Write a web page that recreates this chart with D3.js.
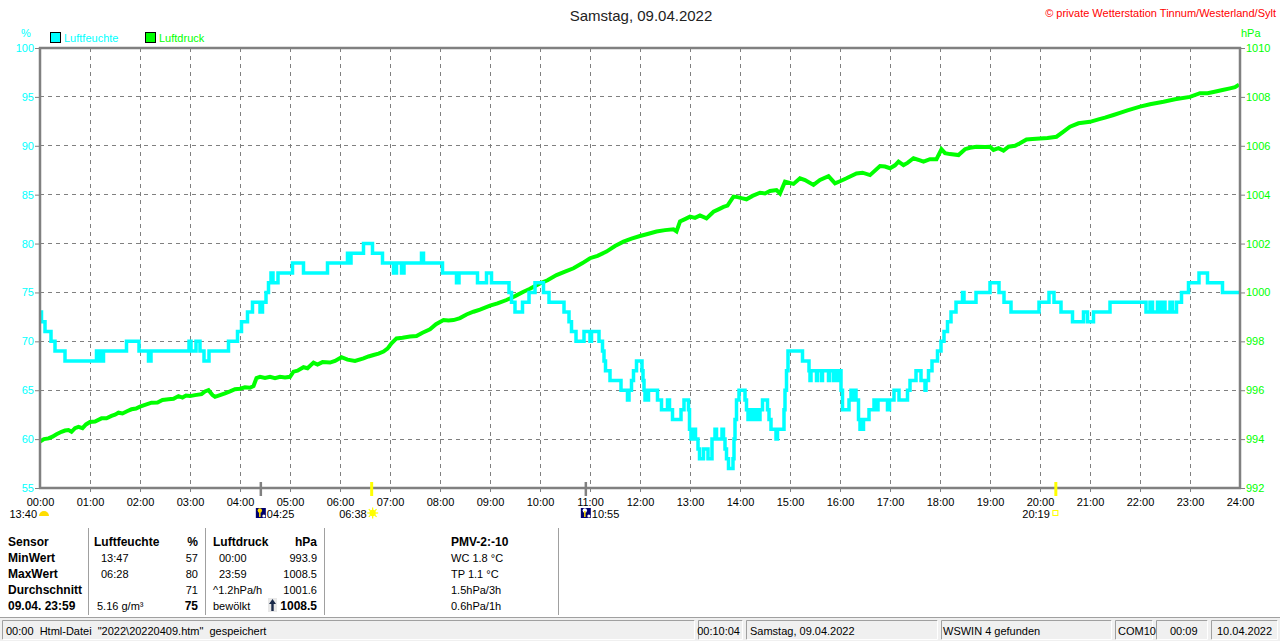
<!DOCTYPE html>
<html><head><meta charset="utf-8">
<script src="https://cdn.jsdelivr.net/npm/d3@7"></script>
<style>
html,body{margin:0;padding:0;background:#fff;}
svg{display:block;font-family:"Liberation Sans",Arial,sans-serif;}
.pre{white-space:pre;}
</style></head>
<body>
<svg id="c" width="1280" height="641"></svg>
<script>
// ---------- data ----------
const title = "Samstag, 09.04.2022";
const copyright = "© private Wetterstation Tinnum/Westerland/Sylt";
const seriesNames = ["Luftfeuchte", "Luftdruck"];
const seriesColors = ["#00ffff", "#00ff00"];
const hourLabels = ["00:00","01:00","02:00","03:00","04:00","05:00","06:00","07:00","08:00","09:00","10:00","11:00","12:00","13:00","14:00","15:00","16:00","17:00","18:00","19:00","20:00","21:00","22:00","23:00","24:00"];
const humTicks = [55,60,65,70,75,80,85,90,95,100];
const presTicks = [992,994,996,998,1000,1002,1004,1006,1008,1010];

// Luftfeuchte (%), step changes: hour of day -> value
const humT = [0.00,0.03,0.10,0.22,0.30,0.50,1.13,1.17,1.20,1.23,1.27,1.73,1.98,2.17,2.22,2.98,3.02,3.12,3.20,3.28,3.38,3.77,3.95,4.03,4.15,4.25,4.40,4.45,4.52,4.57,4.62,4.66,4.76,5.05,5.27,5.75,6.15,6.18,6.22,6.47,6.65,6.85,7.07,7.13,7.23,7.28,7.63,7.67,8.05,8.33,8.38,8.75,8.93,9.03,9.38,9.43,9.50,9.65,9.78,9.90,10.07,10.18,10.48,10.58,10.63,10.72,10.88,11.00,11.03,11.18,11.25,11.28,11.31,11.40,11.62,11.75,11.78,11.83,11.87,11.93,12.04,12.06,12.08,12.10,12.17,12.35,12.43,12.55,12.59,12.65,12.82,12.88,12.97,12.99,13.02,13.08,13.11,13.16,13.19,13.27,13.36,13.44,13.50,13.53,13.64,13.67,13.70,13.73,13.77,13.86,13.88,13.90,13.93,13.98,14.10,14.13,14.16,14.20,14.22,14.26,14.28,14.33,14.36,14.40,14.45,14.55,14.58,14.62,14.72,14.75,14.88,14.90,14.93,14.96,15.25,15.38,15.40,15.42,15.53,15.55,15.63,15.65,15.77,15.79,15.87,15.89,15.96,15.98,16.02,16.05,16.18,16.22,16.25,16.29,16.32,16.37,16.40,16.47,16.58,16.68,16.73,16.76,16.95,16.99,17.08,17.18,17.35,17.40,17.52,17.62,17.70,17.72,17.77,17.84,17.95,18.02,18.08,18.15,18.22,18.32,18.45,18.48,18.72,19.00,19.18,19.28,19.42,19.98,20.18,20.28,20.42,20.65,20.87,20.95,21.07,21.40,22.12,22.20,22.25,22.35,22.40,22.45,22.50,22.60,22.65,22.73,22.83,22.97,23.18,23.35,23.65,24.00];
const humV = [73,72,71,70,69,68,69,68,69,68,69,70,69,68,69,70,69,70,69,68,69,70,71,72,73,74,73,74,75,76,77,76,77,78,77,78,79,78,79,80,79,78,77,78,77,78,79,78,77,76,77,76,77,76,75,74,73,74,75,76,75,74,73,72,71,70,71,70,71,70,69,68,67,66,65,64,65,66,67,68,67,66,65,64,65,64,63,64,63,62,63,64,63,61,60,61,60,59,58,59,58,60,61,60,61,60,59,58,57,58,60,62,64,65,64,63,62,63,62,63,62,63,62,63,64,63,62,61,60,61,63,65,67,69,68,67,66,67,66,67,66,67,66,67,66,67,66,67,65,63,64,65,64,65,64,62,61,62,63,64,63,64,63,64,65,64,65,66,67,66,65,66,67,68,69,70,71,72,73,74,75,74,75,76,75,74,73,74,75,74,73,72,73,72,73,74,73,74,73,74,73,74,73,74,73,74,75,76,77,76,75,75];

// Luftdruck (hPa): hour of day -> value
const presT = [0.00,0.08,0.17,0.25,0.33,0.43,0.50,0.57,0.63,0.70,0.77,0.85,0.92,1.00,1.10,1.23,1.33,1.43,1.50,1.57,1.65,1.75,1.83,1.92,2.00,2.10,2.23,2.35,2.45,2.57,2.67,2.77,2.85,2.92,3.00,3.10,3.23,3.30,3.37,3.45,3.50,3.60,3.70,3.80,3.90,4.00,4.10,4.20,4.27,4.33,4.40,4.50,4.60,4.70,4.80,4.90,5.00,5.07,5.15,5.27,5.35,5.47,5.55,5.65,5.80,5.90,6.03,6.15,6.30,6.47,6.57,6.67,6.77,6.87,6.95,7.03,7.13,7.25,7.40,7.53,7.65,7.80,7.92,8.07,8.17,8.27,8.40,8.53,8.67,8.80,9.00,9.15,9.33,9.50,9.67,9.80,10.00,10.15,10.33,10.50,10.67,10.85,11.00,11.15,11.33,11.50,11.67,11.83,12.00,12.17,12.33,12.50,12.67,12.73,12.80,12.90,13.00,13.10,13.20,13.33,13.47,13.57,13.67,13.75,13.87,13.95,14.05,14.13,14.25,14.40,14.50,14.60,14.73,14.80,14.90,15.07,15.20,15.30,15.47,15.60,15.77,15.90,16.00,16.13,16.33,16.45,16.60,16.80,16.90,17.00,17.10,17.17,17.27,17.35,17.47,17.60,17.67,17.80,17.93,18.03,18.10,18.20,18.37,18.50,18.60,18.73,18.90,19.00,19.07,19.17,19.27,19.37,19.50,19.60,19.73,19.85,20.00,20.15,20.33,20.47,20.60,20.77,21.00,21.17,21.30,21.47,21.60,21.75,22.00,22.20,22.47,22.70,23.00,23.20,23.35,23.47,23.65,23.80,23.90,23.98];
const presV = [993.9,994.0,994.03,994.1,994.2,994.3,994.35,994.37,994.3,994.45,994.5,994.45,994.6,994.7,994.72,994.85,994.85,994.95,995.0,995.08,995.05,995.15,995.22,995.25,995.33,995.4,995.49,995.5,995.6,995.63,995.65,995.76,995.7,995.78,995.76,995.8,995.84,995.95,996.0,995.8,995.73,995.8,995.87,995.95,996.04,996.06,996.12,996.1,996.17,996.5,996.55,996.5,996.55,996.49,996.55,996.52,996.55,996.76,996.8,996.94,996.9,997.13,997.05,997.15,997.13,997.2,997.35,997.25,997.2,997.3,997.38,997.44,997.5,997.58,997.7,997.92,998.12,998.15,998.2,998.22,998.35,998.49,998.7,998.87,998.85,998.87,998.95,999.1,999.21,999.3,999.46,999.55,999.69,999.85,1000.03,1000.15,1000.37,1000.5,1000.71,1000.85,1000.99,1001.2,1001.4,1001.5,1001.67,1001.9,1002.08,1002.2,1002.31,1002.4,1002.49,1002.55,1002.58,1002.5,1002.9,1003.0,1003.1,1003.05,1003.15,1003.03,1003.3,1003.4,1003.5,1003.55,1003.92,1003.9,1003.85,1003.81,1003.95,1004.08,1004.05,1004.15,1004.19,1004.05,1004.53,1004.44,1004.67,1004.6,1004.4,1004.6,1004.76,1004.46,1004.55,1004.67,1004.87,1004.9,1004.8,1005.17,1005.15,1005.08,1005.2,1005.35,1005.21,1005.3,1005.49,1005.4,1005.35,1005.45,1005.45,1005.86,1005.7,1005.66,1005.62,1005.86,1005.92,1005.96,1005.95,1005.96,1005.83,1005.9,1005.8,1005.96,1006.0,1006.1,1006.26,1006.28,1006.3,1006.32,1006.37,1006.58,1006.78,1006.92,1006.98,1007.08,1007.15,1007.26,1007.35,1007.45,1007.6,1007.7,1007.8,1007.9,1008.0,1008.15,1008.15,1008.2,1008.28,1008.35,1008.4,1008.5];

// sun / moon events
const eventTimes = ["13:40","04:25","06:38","10:55","20:19"];
const eventKinds = ["moonphase","moonset","sunrise","moonrise","sunset"];

// table
const tableHeader = ["Sensor","Luftfeuchte","%","Luftdruck","hPa","PMV-2:-10"];
const rowLabels = ["MinWert","MaxWert","Durchschnitt","09.04. 23:59"];
const humCol = ["13:47","06:28","","5.16 g/m³"];
const humVal = ["57","80","71","75"];
const presCol = ["00:00","23:59","^1.2hPa/h","bewölkt"];
const presVal = ["993.9","1008.5","1001.6","1008.5"];
const extraCol = ["WC 1.8 °C","TP 1.1 °C","1.5hPa/3h","0.6hPa/1h"];

const statusTexts = ["00:00  Html-Datei  \"2022\\20220409.htm\"  gespeichert","00:10:04","Samstag, 09.04.2022","WSWIN 4 gefunden","COM10","00:09","10.04.2022"];

// ---------- drawing ----------
const svg = d3.select("#c");
const L = 40, R = 1240, T = 48, B = 488;
const x = d3.scaleLinear().domain([0,24]).range([L,R]);
const yH = d3.scaleLinear().domain([55,100]).range([B,T]);
const yP = d3.scaleLinear().domain([992,1010]).range([B,T]);
const grey = "#808080";

svg.append("rect").attr("width",1280).attr("height",641).attr("fill","#fff");

// title & copyright
svg.append("text").attr("x",641).attr("y",21).attr("text-anchor","middle")
  .attr("font-size",15).attr("fill","#222").text(title);
svg.append("text").attr("x",1276).attr("y",17).attr("text-anchor","end")
  .attr("font-size",11).attr("fill","#ff0000").text(copyright);

// units
svg.append("text").attr("x",26).attr("y",37).attr("text-anchor","middle").attr("font-size",11).attr("fill",seriesColors[0]).text("%");
svg.append("text").attr("x",1241).attr("y",37).attr("font-size",11).attr("fill",seriesColors[1]).text("hPa");

// legend
const legX = [50,145];
seriesNames.forEach((n,i)=>{
  svg.append("rect").attr("x",legX[i]+0.5).attr("y",32.5).attr("width",10).attr("height",10)
    .attr("fill",seriesColors[i]).attr("stroke","#000").attr("stroke-width",1);
  svg.append("text").attr("x",legX[i]+14).attr("y",42).attr("font-size",11).attr("fill",seriesColors[i]).text(n);
});

// grid
const grid = svg.append("g").attr("stroke",grey).attr("stroke-width",1).attr("stroke-dasharray","4,4").attr("shape-rendering","crispEdges");
d3.range(1,24).forEach(h=>{
  grid.append("line").attr("x1",x(h)).attr("x2",x(h)).attr("y1",T).attr("y2",B+4);
});
humTicks.slice(1,-1).forEach(v=>{
  grid.append("line").attr("x1",L).attr("x2",R).attr("y1",yH(v)).attr("y2",yH(v));
});

// axes
const axL = svg.append("g").attr("transform",`translate(${L},0)`)
  .call(d3.axisLeft(yH).tickValues(humTicks).tickSize(5).tickPadding(1).tickFormat(d3.format("d")));
axL.select(".domain").remove();
axL.selectAll("line").attr("stroke",grey);
axL.selectAll("text").attr("fill",seriesColors[0]).attr("font-size",11).attr("font-family","Liberation Sans, Arial, sans-serif");

const axR = svg.append("g").attr("transform",`translate(${R},0)`)
  .call(d3.axisRight(yP).tickValues(presTicks).tickSize(5).tickPadding(1).tickFormat(d3.format("d")));
axR.select(".domain").remove();
axR.selectAll("line").attr("stroke",grey);
axR.selectAll("text").attr("fill",seriesColors[1]).attr("font-size",11).attr("font-family","Liberation Sans, Arial, sans-serif");

const axB = svg.append("g").attr("transform",`translate(0,${B})`)
  .call(d3.axisBottom(x).tickValues(d3.range(0,25)).tickSize(0).tickPadding(10).tickFormat(i=>hourLabels[i]));
axB.select(".domain").remove();
axB.selectAll("text").attr("fill","#000").attr("font-size",11).attr("font-family","Liberation Sans, Arial, sans-serif");

// data lines
const lineP = d3.line().x(d=>x(d[0])).y(d=>yP(d[1]));
svg.append("path").datum(d3.zip(presT,presV)).attr("d",lineP)
  .attr("fill","none").attr("stroke",seriesColors[1]).attr("stroke-width",4).attr("stroke-linejoin","miter");
const lineH = d3.line().x(d=>x(d[0])).y(d=>yH(d[1])).curve(d3.curveStepAfter);
svg.append("path").datum(d3.zip(humT,humV)).attr("d",lineH)
  .attr("fill","none").attr("stroke",seriesColors[0]).attr("stroke-width",3.5);

// frame
const fr = svg.append("g").attr("stroke",grey).attr("stroke-width",2.5).attr("fill","none");
fr.append("line").attr("x1",L-1).attr("x2",R+1).attr("y1",T).attr("y2",T);
fr.append("line").attr("x1",L-1).attr("x2",R+1).attr("y1",B).attr("y2",B);
fr.append("line").attr("x1",L).attr("x2",L).attr("y1",T-1).attr("y2",B+1);
fr.append("line").attr("x1",R).attr("x2",R).attr("y1",T-1).attr("y2",B+1);

// events
const toH = s => { const p = s.split(":"); return +p[0] + (+p[1])/60; };
eventTimes.forEach((t,i)=>{
  const k = eventKinds[i];
  const ex = k==="moonphase" ? x(0) : x(toH(t));
  const g = svg.append("g");
  if (k !== "moonphase") {
    const col = (k==="sunrise"||k==="sunset") ? "#ffff00" : grey;
    g.append("line").attr("x1",ex).attr("x2",ex).attr("y1",B-6).attr("y2",B+8)
      .attr("stroke",col).attr("stroke-width",k.startsWith("sun")?3:2.5);
  }
  const ty = 518;
  if (k==="moonphase") {
    g.append("path").attr("d",`M${ex-1},${516} a5,5 0 0 1 10,0 z`).attr("fill","#ffdd00");
    g.append("text").attr("x",ex-3).attr("y",ty).attr("text-anchor","end").attr("font-size",11).text(t);
  } else if (k==="moonset" || k==="moonrise") {
    g.append("rect").attr("x",ex-5).attr("y",508).attr("width",10).attr("height",10).attr("fill","#00006e");
    g.append("circle").attr("cx",ex-1).attr("cy",510.5).attr("r",2.2).attr("fill",k==="moonset"?"#ffdd00":"#ffffff");
    g.append("line").attr("x1",ex-1).attr("x2",ex-1).attr("y1",511).attr("y2",517).attr("stroke","#ffdd00").attr("stroke-width",1.5);
    g.append("circle").attr("cx",ex+3).attr("cy",516).attr("r",1.5).attr("fill","#ffffff");
    g.append("text").attr("x",ex+6).attr("y",ty).attr("font-size",11).text(t);
  } else if (k==="sunrise") {
    const cx = ex+1, cy = 513;
    d3.range(8).forEach(j=>{
      const a = j*Math.PI/4;
      g.append("line").attr("x1",cx+Math.cos(a)*3).attr("y1",cy+Math.sin(a)*3)
        .attr("x2",cx+Math.cos(a)*5.5).attr("y2",cy+Math.sin(a)*5.5).attr("stroke","#ffff00").attr("stroke-width",1.2);
    });
    g.append("circle").attr("cx",cx).attr("cy",cy).attr("r",3.2).attr("fill","#ffff00");
    g.append("text").attr("x",ex-5).attr("y",ty).attr("text-anchor","end").attr("font-size",11).text(t);
  } else {
    g.append("rect").attr("x",ex-3).attr("y",510.5).attr("width",5).attr("height",5).attr("fill","none").attr("stroke","#ffff00").attr("stroke-width",1);
    g.append("text").attr("x",ex-6).attr("y",ty).attr("text-anchor","end").attr("font-size",11).text(t);
  }
});

// table
const tb = svg.append("g").attr("font-size",11).attr("fill","#000");
[88,205,324,558].forEach(sx=>{
  tb.append("line").attr("x1",sx).attr("x2",sx).attr("y1",528).attr("y2",615).attr("stroke","#a0a0a0").attr("stroke-width",1).attr("shape-rendering","crispEdges");
});
const rowY = [546,562,578,594,610];
const hdrX = [8,94,198,213,317,451];
const hdrAnchor = ["start","start","end","start","end","start"];
tableHeader.forEach((h,i)=>{
  tb.append("text").attr("x",hdrX[i]).attr("y",rowY[0]).attr("text-anchor",hdrAnchor[i]).attr("font-size",12).attr("font-weight","bold").text(h);
});
rowLabels.forEach((r,i)=>{
  const y = rowY[i+1];
  tb.append("text").attr("x",8).attr("y",y).attr("font-size",12).attr("font-weight","bold").text(r);
  tb.append("text").attr("x",i===3?97:101).attr("y",y).text(humCol[i]);
  tb.append("text").attr("x",198).attr("y",y).attr("text-anchor","end").attr("font-size",i===3?12:11).attr("font-weight",i===3?"bold":"normal").text(humVal[i]);
  tb.append("text").attr("x",(i<2)?219:213).attr("y",y).text(presCol[i]);
  tb.append("text").attr("x",317).attr("y",y).attr("text-anchor","end").attr("font-size",i===3?12:11).attr("font-weight",i===3?"bold":"normal").text(presVal[i]);
  tb.append("text").attr("x",451).attr("y",y).text(extraCol[i]);
});
// trend arrow
tb.append("rect").attr("x",268).attr("y",598).attr("width",9).attr("height",14).attr("fill","#e8e8e8");
tb.append("path").attr("d","M272.5,599 L276,604 L273.7,604 L273.7,611 L271.3,611 L271.3,604 L269,604 Z").attr("fill","#1a2a4a");

// status bar
const sb = svg.append("g");
sb.append("rect").attr("x",0).attr("y",617).attr("width",1280).attr("height",24).attr("fill","#f0f0f0");
sb.append("line").attr("x1",0).attr("x2",1280).attr("y1",617.5).attr("y2",617.5).attr("stroke","#a0a0a0");
const panels = [[2,695],[698,743],[746,938],[941,1112],[1115,1153],[1156,1208],[1211,1278]];
const stX = [6,740,750,943,1118,1170,1217];
const stA = ["start","end","start","start","start","start","start"];
panels.forEach((p,i)=>{
  sb.append("path").attr("d",`M${p[0]+0.5},639.5 V620.5 H${p[1]-0.5}`).attr("fill","none").attr("stroke","#a0a0a0");
  sb.append("path").attr("d",`M${p[1]-0.5},620.5 V639.5 H${p[0]+0.5}`).attr("fill","none").attr("stroke","#ffffff");
  sb.append("text").attr("class","pre").attr("x",stX[i]).attr("y",634.5).attr("text-anchor",stA[i]).attr("font-size",11).attr("fill","#000").text(statusTexts[i]);
});
</script>
</body></html>
